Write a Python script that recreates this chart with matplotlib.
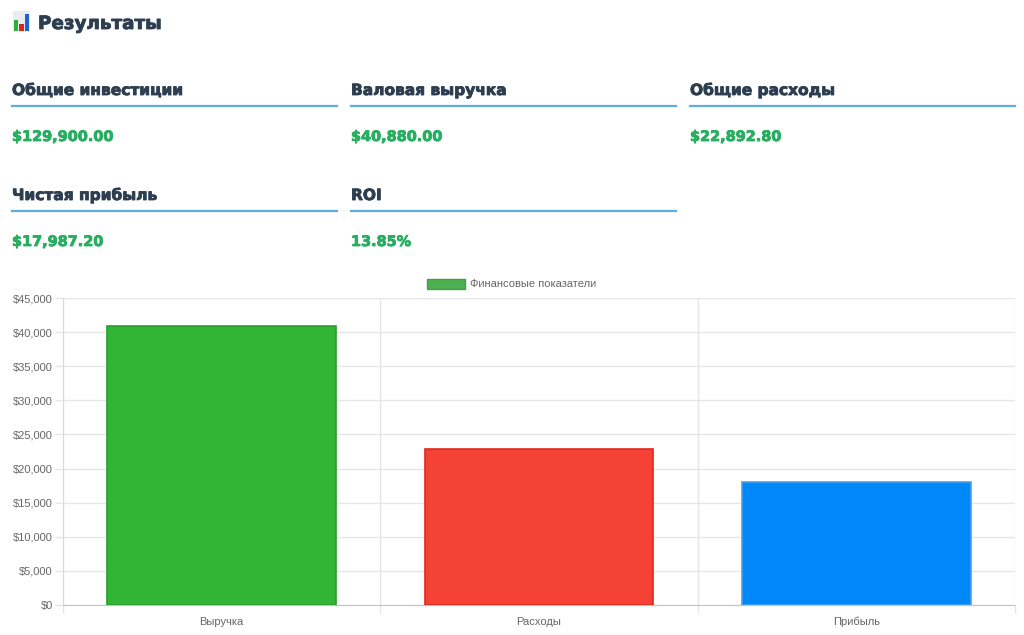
import matplotlib
matplotlib.use("Agg")
import matplotlib.pyplot as plt
import matplotlib.patheffects as pe
from matplotlib.patches import Patch
from matplotlib.ticker import FuncFormatter

# data
categories = ["Выручка", "Расходы", "Прибыль"]
values = [40880.00, 22892.80, 17987.20]
kpi_labels = ["Общие инвестиции", "Валовая выручка", "Общие расходы", "Чистая прибыль", "ROI"]
kpi_values = ["$129,900.00", "$40,880.00", "$22,892.80", "$17,987.20", "13.85%"]
legend_label = "Финансовые показатели"
icon_heights = [0.55, 0.37, 0.84]

bar_colors = ["#32b434", "#f44336", "#0088f8"]
edge_colors = ["#2a9f2e", "#e2281c", "#4a9ef0"]

W, H = 1024, 635
fig = plt.figure(figsize=(W / 100, H / 100), dpi=100)
fig.patch.set_facecolor("white")


def fx(x):
    return x / W


def fy(y):
    return 1 - y / H


head_font = "DejaVu Sans"
dark = "#2c3e50"
green_txt = "#27ae60"


def heavy(color):
    # thicken the bold glyphs a little, the original uses a heavier face
    return [pe.withStroke(linewidth=0.6, foreground=color)]


# header icon + title
icon = fig.add_axes([fx(13), fy(32), fx(17), 21 / H])
icon.set_facecolor("#e9edf2")
icon.bar([0, 1, 2], icon_heights, width=0.78, color=["#2fae3c", "#d7261e", "#1f63d0"])
icon.set_xlim(-0.6, 2.6)
icon.set_ylim(-0.05, 1)
icon.set_xticks([])
icon.set_yticks([])
for s in icon.spines.values():
    s.set_visible(False)
fig.text(fx(38), fy(29), "Результаты", fontsize=13.2, fontweight="bold",
         color=dark, family=head_font, va="baseline", path_effects=heavy(dark))

# KPI cards
col_x = [12, 351, 690]
col_w = 325
row_y = [95, 200]
for i, (lab, val) in enumerate(zip(kpi_labels, kpi_values)):
    cx = col_x[i % 3]
    base = row_y[i // 3]
    fig.text(fx(cx), fy(base), lab, fontsize=11.1, fontweight="bold",
             color=dark, family=head_font, va="baseline", path_effects=heavy(dark))
    fig.add_artist(plt.Line2D([fx(cx), fx(cx + col_w)], [fy(base + 11), fy(base + 11)],
                              color="#5dade2", lw=1.6, transform=fig.transFigure))
    fig.text(fx(cx), fy(base + 46), val, fontsize=10.4, fontweight="bold",
             color=green_txt, family=head_font, va="baseline", path_effects=heavy(green_txt))

# bar chart
ax = fig.add_axes([fx(63), fy(605), fx(1015 - 63), (605 - 298) / H])
x = range(len(categories))
ax.bar(x, values, width=0.72, color=bar_colors, edgecolor=edge_colors, linewidth=1.2, zorder=3)
ax.set_xlim(-0.5, 2.5)
ax.set_ylim(0, 45000)
ax.set_yticks(range(0, 45001, 5000))
ax.yaxis.set_major_formatter(FuncFormatter(lambda v, p: "${:,.0f}".format(v)))
ax.set_xticks(list(x))
ax.set_xticklabels(categories)
ax.set_xticks([-0.5, 0.5, 1.5, 2.5], minor=True)

grid_c = "#e6e6e6"
ax.grid(axis="y", which="major", color=grid_c, lw=1, zorder=0)
ax.grid(axis="x", which="minor", color=grid_c, lw=1, zorder=0)
ax.tick_params(axis="x", which="major", length=0, pad=8.5, labelsize=8.0, labelcolor="#666666")
ax.tick_params(axis="x", which="minor", length=5.8, color=grid_c, width=1)
ax.tick_params(axis="y", length=5.8, color=grid_c, width=1, pad=1.5, labelsize=8.0, labelcolor="#666666")
for lab in ax.get_xticklabels() + ax.get_yticklabels():
    lab.set_family("Liberation Sans")
for s in ["top", "right"]:
    ax.spines[s].set_visible(False)
ax.spines["left"].set_color("#d9d9d9")
ax.spines["bottom"].set_color("#c4c4c4")

handle = Patch(facecolor="#4caf50", edgecolor="#43a047", linewidth=1)
fig.legend([handle], [legend_label], loc="center", bbox_to_anchor=(fx(512), fy(284)),
           frameon=False, handlelength=3.4, handleheight=1.05, handletextpad=0.45,
           prop={"family": "Liberation Sans", "size": 8.0}, labelcolor="#666666")

fig.savefig("out.png", dpi=100, facecolor="white")
